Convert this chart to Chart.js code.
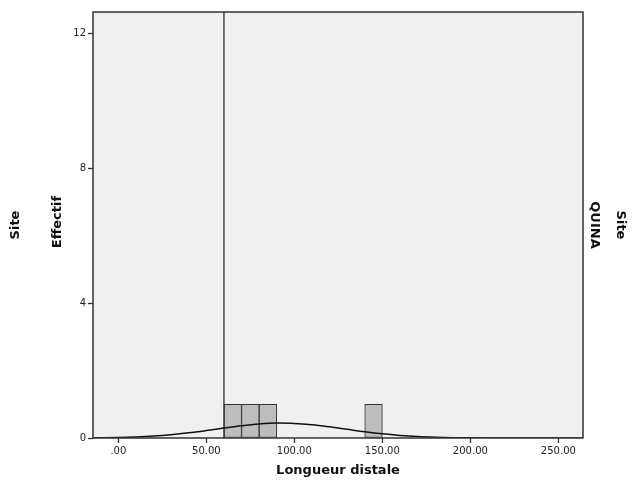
<!DOCTYPE html>
<html>
<head>
<meta charset="utf-8">
<script src="https://cdn.jsdelivr.net/npm/chart.js@4"></script>
<style>
html, body { margin: 0; padding: 0; background: #fff; }
</style>
</head>
<body>
<canvas id="chart" width="634" height="482"></canvas>
<script>
// histogram bins (width 10) and counts
const binCenters = [65, 75, 85, 145];
const binCounts = [1, 1, 1, 1];

// normal curve
const curveX = [-14, 0, 10, 20, 30, 40, 50, 60, 70, 80, 90, 100, 110, 120, 130, 140, 150, 160, 170, 180, 190, 200, 210, 220, 230, 240, 250, 264];
const curveY = [0.005, 0.016, 0.032, 0.058, 0.098, 0.153, 0.221, 0.295, 0.365, 0.418, 0.443, 0.434, 0.394, 0.331, 0.258, 0.185, 0.123, 0.076, 0.043, 0.023, 0.011, 0.005, 0.002, 0.001, 0, 0, 0, 0];

// vertical reference line
const refLineX = 60;

const xTicks = [0, 50, 100, 150, 200, 250];
const yTicks = [0, 4, 8, 12];
const xMin = -14.4, xMax = 264;
const yMin = 0, yMax = 12.65;

const FONT = '"DejaVu Sans", sans-serif';

function rotText(ctx, txt, x, y, ang) {
    ctx.save();
    ctx.translate(x, y);
    ctx.rotate(ang);
    ctx.fillText(txt, 0, 0);
    ctx.restore();
}

// plot background, frame and the outer labels
const frame = {
    id: 'frame',
    beforeDraw(c) {
        const {ctx, chartArea: a} = c;
        ctx.save();
        ctx.fillStyle = '#f0f0f0';
        ctx.fillRect(a.left, a.top, a.width, a.height);
        ctx.restore();
    },
    afterDraw(c) {
        const {ctx, chartArea: a} = c;
        ctx.save();
        ctx.strokeStyle = '#333';
        ctx.lineWidth = 1.5;
        ctx.strokeRect(a.left, a.top, a.width, a.height);

        ctx.fillStyle = '#111';
        ctx.font = 'bold 13px ' + FONT;
        ctx.textAlign = 'center';
        ctx.textBaseline = 'middle';
        const midY = (a.top + a.bottom) / 2;
        rotText(ctx, 'Site', 16, midY, -Math.PI / 2);
        rotText(ctx, 'Effectif', 58, midY - 3, -Math.PI / 2);
        rotText(ctx, 'QUINA', 594, midY, Math.PI / 2);
        rotText(ctx, 'Site', 620, midY, Math.PI / 2);
        ctx.fillText('Longueur distale', (a.left + a.right) / 2, 471);
        ctx.restore();
    }
};

const chart = document.querySelector('#chart').getContext('2d');

new Chart(chart, {
    type: 'bar',
    data: {
        datasets: [
            {
                type: 'bar',
                data: binCenters.map((x, i) => ({x: x, y: binCounts[i]})),
                backgroundColor: '#bdbdbd',
                borderColor: '#333',
                borderWidth: 1,
                borderSkipped: false,
                barPercentage: 1,
                categoryPercentage: 1,
                order: 2
            },
            {
                type: 'line',
                data: curveX.map((x, i) => ({x: x, y: curveY[i]})),
                borderColor: '#111',
                borderWidth: 1.5,
                pointRadius: 0,
                cubicInterpolationMode: 'monotone',
                fill: false,
                order: 1
            },
            {
                type: 'line',
                data: [{x: refLineX, y: yMin}, {x: refLineX, y: yMax}],
                borderColor: '#222',
                borderWidth: 1.2,
                pointRadius: 0,
                fill: false,
                order: 1
            }
        ]
    },
    options: {
        responsive: false,
        animation: false,
        layout: { padding: { left: 0, top: 12, right: 51, bottom: 0 } },
        plugins: { legend: { display: false }, tooltip: { enabled: false } },
        scales: {
            x: {
                type: 'linear',
                min: xMin,
                max: xMax,
                offset: false,
                afterBuildTicks: s => { s.ticks = xTicks.map(v => ({value: v})); },
                afterFit: s => { s.height = 44; },
                ticks: {
                    font: { family: FONT, size: 10 },
                    color: '#222',
                    padding: 2,
                    maxRotation: 0,
                    callback: v => v === 0 ? '.00' : v.toFixed(2)
                },
                grid: { offset: false, drawOnChartArea: false, tickLength: 5, tickColor: '#333', tickWidth: 1.3 },
                border: { display: false }
            },
            y: {
                min: yMin,
                max: yMax,
                afterBuildTicks: s => { s.ticks = yTicks.map(v => ({value: v})); },
                afterFit: s => { s.width = 93; },
                ticks: {
                    font: { family: FONT, size: 10 },
                    color: '#222',
                    padding: 2
                },
                grid: { offset: false, drawOnChartArea: false, tickLength: 5, tickColor: '#333', tickWidth: 1.3 },
                border: { display: false }
            }
        }
    },
    plugins: [frame]
})
</script>
</body>
</html>
